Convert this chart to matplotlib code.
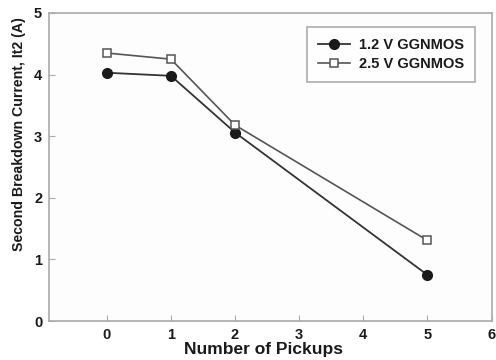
import matplotlib
matplotlib.use("Agg")
import matplotlib.pyplot as plt
from matplotlib.ticker import FixedLocator

pickups = [0, 1, 2, 5]
it2_12v = [4.03, 3.98, 3.06, 0.75]
it2_25v = [4.35, 4.25, 3.18, 1.31]
xticks = [0, 1, 2, 3, 4, 5, 6]
yticks = [0, 1, 2, 3, 4, 5]

plt.rcParams['font.family'] = ['Liberation Sans', 'DejaVu Sans']
plt.rcParams['font.weight'] = 'bold'

fig = plt.figure(figsize=(4.96, 3.6), dpi=100)
ax = fig.add_axes([0.099, 0.108, 0.892, 0.856])
ax.set_facecolor('#fdfdfd')

ax.plot(pickups, it2_12v, color='#333333', lw=1.3, marker='o', ms=7,
        mfc='#1a1a1a', mec='#1a1a1a', label='1.2 V GGNMOS', zorder=3)
ax.plot(pickups, it2_25v, color='#555555', lw=1.2, marker='s', ms=5.5,
        mfc='white', mec='#555555', mew=1.1, label='2.5 V GGNMOS', zorder=3)

ax.set_xlim(-0.9, 6)
ax.set_ylim(0, 5)
ax.xaxis.set_major_locator(FixedLocator(xticks))
ax.yaxis.set_major_locator(FixedLocator(yticks))
ax.tick_params(direction='in', length=4, color='#aaaaaa', labelsize=10.5,
               labelcolor='#1a1a1a', pad=5)
for lab in ax.get_xticklabels() + ax.get_yticklabels():
    lab.set_fontweight('bold')
for s in ax.spines.values():
    s.set_color('#aaaaaa')
    s.set_linewidth(1.2)

ax.set_xlabel('Number of Pickups', fontsize=12.5, fontweight='bold', color='#1a1a1a')
ax.xaxis.set_label_coords((264 - 49) / 442.7, -(349 - 321) / 308, transform=ax.transAxes)
ax.xaxis.label.set_va('center')
ax.set_ylabel('Second Breakdown Current, It2 (A)', fontsize=10.2, fontweight='bold',
              color='#1a1a1a')
ax.yaxis.set_label_coords(-(49 - 19) / 442.7, (321 - 134) / 308, transform=ax.transAxes)
ax.yaxis.label.set_va('center')

leg = ax.legend(loc='upper left', bbox_to_anchor=(307 / 496, 1 - 27 / 360),
                bbox_transform=fig.transFigure, borderaxespad=0, fontsize=10.5,
                frameon=True, fancybox=False, edgecolor='#999999', handlelength=2.2,
                handletextpad=0.6, borderpad=0.75, labelspacing=0.35)
leg.get_frame().set_linewidth(1.2)
for t in leg.get_texts():
    t.set_fontweight('bold')
    t.set_color('#1a1a1a')

fig.savefig('out.png', dpi=100, facecolor='white')
